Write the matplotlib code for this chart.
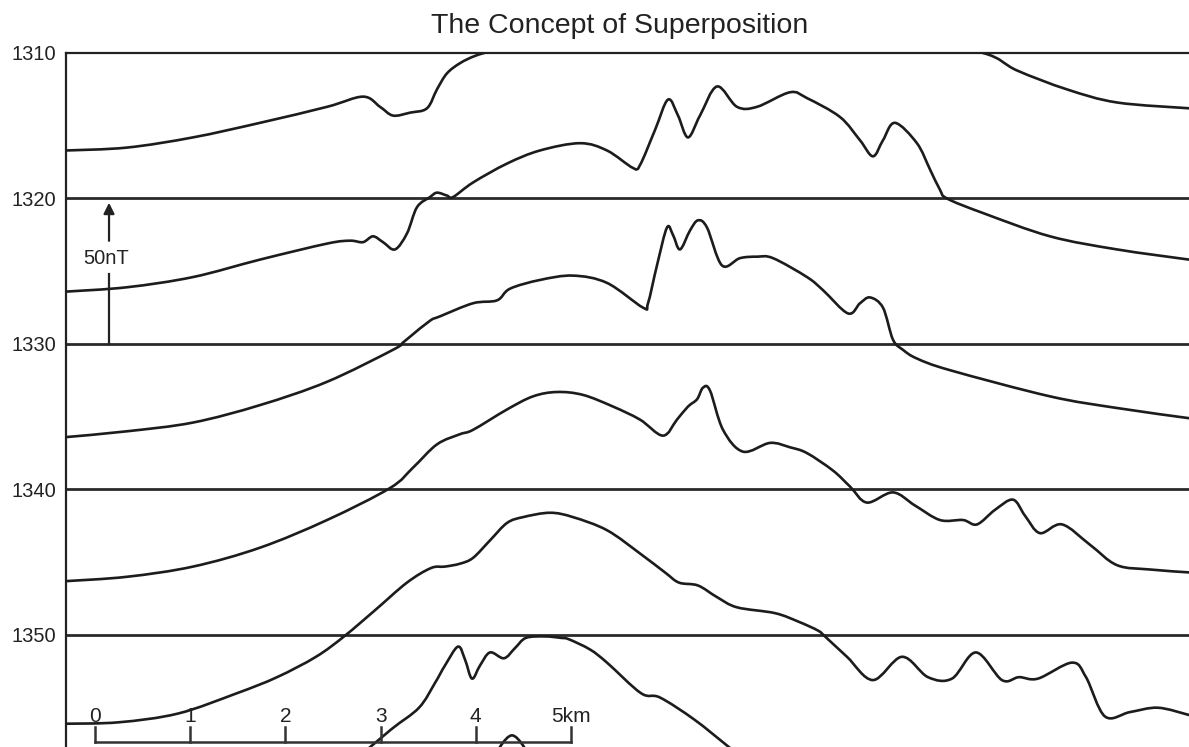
import matplotlib
matplotlib.use("Agg")
import matplotlib.pyplot as plt
import numpy as np
from matplotlib.path import Path
from matplotlib.patches import PathPatch

plt.rcParams['font.family'] = ['Liberation Sans', 'DejaVu Sans']

# ---------------- data (distance in km, value on the axis scale) ----------------
title = "The Concept of Superposition"
y_ticks = [1310, 1320, 1330, 1340, 1350]
baselines = [1320, 1330, 1340, 1350]
scale_km = [0, 1, 2, 3, 4, 5]
scale_labels = ["0", "1", "2", "3", "4", "5km"]

c1_x = [-0.305, 0.336, 1.029, 1.733, 2.437, 2.815, 2.994, 3.130, 3.309, 3.487, 3.592,
        3.697, 3.834, 3.992, 4.202, 4.674, 5.305, 6.355, 7.405, 8.456, 9.328, 9.685,
        10.210, 10.735, 11.492]
c1_y = [1316.7, 1316.5, 1315.8, 1314.8, 1313.7, 1313.0, 1313.7, 1314.3, 1314.1, 1313.8, 1312.5,
        1311.4, 1310.7, 1310.2, 1309.8, 1309.1, 1308.6, 1308.4, 1308.6, 1309.1, 1310.0, 1311.2,
        1312.5, 1313.4, 1313.8]

c2_x = [-0.305, 0.336, 1.029, 1.733, 2.437, 2.679, 2.815, 2.920, 3.025, 3.151, 3.277,
        3.382, 3.519, 3.592, 3.697, 3.761, 3.971, 4.328, 4.674, 5.095, 5.378, 5.651,
        5.725, 5.882, 6.019, 6.124, 6.229, 6.355, 6.534, 6.744, 6.954, 7.300, 7.479,
        7.826, 8.036, 8.172, 8.277, 8.403, 8.634, 8.771, 8.876, 8.950, 9.328, 10.032,
        10.735, 11.492]
c2_y = [1326.4, 1326.1, 1325.4, 1324.2, 1323.1, 1322.9, 1323.0, 1322.6, 1323.0, 1323.5, 1322.4,
        1320.6, 1319.9, 1319.6, 1319.8, 1319.9, 1318.9, 1317.6, 1316.7, 1316.2, 1316.7, 1317.9,
        1317.7, 1315.3, 1313.2, 1314.3, 1315.8, 1314.3, 1312.3, 1313.7, 1313.7, 1312.7, 1313.1,
        1314.4, 1316.0, 1317.1, 1316.0, 1314.8, 1316.2, 1318.0, 1319.4, 1320.0, 1321.0, 1322.6,
        1323.5, 1324.2]

c3_x = [-0.305, 0.336, 1.029, 1.733, 2.437, 3.130, 3.235, 3.309, 3.519, 3.624, 3.971,
        4.223, 4.359, 4.674, 5.021, 5.378, 5.756, 5.809, 5.903, 6.008, 6.071, 6.145,
        6.250, 6.334, 6.429, 6.586, 6.775, 6.954, 7.122, 7.479, 7.647, 7.910, 8.036,
        8.141, 8.277, 8.382, 8.487, 8.634, 8.981, 10.032, 10.735, 11.492]
c3_y = [1336.4, 1336.0, 1335.4, 1334.2, 1332.6, 1330.4, 1329.9, 1329.5, 1328.4, 1328.1, 1327.2,
        1327.0, 1326.2, 1325.6, 1325.3, 1325.8, 1327.5, 1327.2, 1324.6, 1322.0, 1322.5, 1323.5,
        1322.2, 1321.5, 1322.0, 1324.6, 1324.1, 1324.0, 1324.1, 1325.4, 1326.3, 1327.9, 1327.2,
        1326.8, 1327.5, 1329.7, 1330.4, 1331.0, 1331.8, 1333.6, 1334.4, 1335.1]

c4_x = [-0.305, 0.336, 1.029, 1.733, 2.437, 3.099, 3.340, 3.592, 3.834, 3.971, 4.328,
        4.601, 4.853, 5.126, 5.441, 5.725, 5.966, 6.113, 6.229, 6.324, 6.387, 6.460,
        6.597, 6.807, 7.090, 7.300, 7.479, 7.752, 7.931, 8.109, 8.382, 8.613, 8.876,
        9.118, 9.265, 9.454, 9.643, 9.769, 9.926, 10.158, 10.452, 10.735, 11.082, 11.492]
c4_y = [1346.3, 1346.0, 1345.3, 1344.0, 1342.1, 1339.9, 1338.5, 1336.9, 1336.2, 1335.9, 1334.5,
        1333.6, 1333.3, 1333.5, 1334.3, 1335.2, 1336.3, 1335.2, 1334.3, 1333.8, 1333.0, 1333.2,
        1335.9, 1337.4, 1336.8, 1337.1, 1337.5, 1338.7, 1339.8, 1340.9, 1340.2, 1341.1, 1342.1,
        1342.1, 1342.4, 1341.4, 1340.7, 1341.8, 1343.0, 1342.4, 1343.8, 1345.2, 1345.5, 1345.7]

c5_x = [-0.305, 0.252, 0.872, 1.492, 1.912, 2.321, 2.616, 2.941, 3.277, 3.529, 3.676,
        3.834, 3.971, 4.149, 4.328, 4.496, 4.779, 5.021, 5.378, 5.725, 5.987, 6.134,
        6.334, 6.534, 6.744, 7.143, 7.395, 7.595, 7.668, 7.899, 8.172, 8.477, 8.750,
        9.002, 9.254, 9.527, 9.706, 9.905, 10.263, 10.410, 10.609, 10.872, 11.166, 11.492]
c5_y = [1356.1, 1356.0, 1355.4, 1354.0, 1352.9, 1351.5, 1350.1, 1348.3, 1346.4, 1345.4, 1345.3,
        1345.1, 1344.7, 1343.5, 1342.3, 1341.9, 1341.6, 1341.9, 1342.8, 1344.4, 1345.7, 1346.4,
        1346.6, 1347.4, 1348.1, 1348.5, 1349.1, 1349.7, 1350.1, 1351.5, 1353.1, 1351.5, 1352.9,
        1353.0, 1351.2, 1353.1, 1352.9, 1353.0, 1351.9, 1352.9, 1355.6, 1355.3, 1355.0, 1355.5]

c6_x = [2.731, 3.109, 3.403, 3.571, 3.676, 3.813, 3.887, 3.960, 4.044, 4.149, 4.296,
        4.412, 4.527, 4.727, 4.895, 4.979, 5.200, 5.378, 5.735, 5.935, 6.292, 6.639, 6.828]
c6_y = [1358.6, 1356.5, 1355.0, 1353.3, 1352.1, 1350.8, 1351.7, 1353.0, 1352.1, 1351.2, 1351.6,
        1350.9, 1350.2, 1350.1, 1350.2, 1350.3, 1351.0, 1351.9, 1354.0, 1354.3, 1355.8, 1357.6, 1358.6]

c7_x = [4.149, 4.380, 4.611]
c7_y = [1358.8, 1356.9, 1358.8]

arrow_x = 0.147
arrow_label = "50nT"

# ---------------- figure ----------------
W, H = 1189, 747
fig = plt.figure(figsize=(W / 100, H / 100), dpi=100)
ax = fig.add_axes([66 / W, 0.0, (W - 66) / W, (H - 53) / H])

line_col = "#1c1c1c"


def smooth_path(xs, ys):
    """Draw a smooth (Catmull-Rom as Bezier) line through the data points."""
    p = np.column_stack([xs, ys]).astype(float)
    n = len(p)
    verts = [p[0]]
    codes = [Path.MOVETO]
    for i in range(n - 1):
        p0 = p[i - 1] if i > 0 else p[i]
        p1, p2 = p[i], p[i + 1]
        p3 = p[i + 2] if i + 2 < n else p[i + 1]
        c1 = p1 + (p2 - p0) / 6.0
        c2 = p2 - (p3 - p1) / 6.0
        verts += [c1, c2, p2]
        codes += [Path.CURVE4] * 3
    return Path(verts, codes)


for yb in baselines:
    ax.axhline(yb, color="#2a2a2a", lw=2.0, zorder=2)

for xs, ys in [(c1_x, c1_y), (c2_x, c2_y), (c3_x, c3_y), (c4_x, c4_y),
               (c5_x, c5_y), (c6_x, c6_y), (c7_x, c7_y)]:
    ax.add_patch(PathPatch(smooth_path(xs, ys), facecolor="none", edgecolor=line_col,
                           lw=1.9, joinstyle="round", capstyle="round", zorder=3))

# 50 nT arrow
ax.plot([arrow_x, arrow_x], [1330, 1325.2], color="#222222", lw=1.6, zorder=3)
ax.annotate("", xy=(arrow_x, 1320.1), xytext=(arrow_x, 1323.1),
            arrowprops=dict(arrowstyle="-|>", color="#222222", lw=1.6, mutation_scale=16),
            zorder=3)
ax.text(arrow_x - 0.03, 1324.1, arrow_label, ha="center", va="center", fontsize=14.5, color="#222222")

# distance scale bar
sb_y = 1357.35
ax.plot([scale_km[0], scale_km[-1]], [sb_y, sb_y], color="#333333", lw=1.8, zorder=3)
for k, lab in zip(scale_km, scale_labels):
    ax.plot([k, k], [sb_y, sb_y - 1.05], color="#333333", lw=1.8, zorder=3)
    ax.text(k, 1356.0, lab, ha="center", va="baseline", fontsize=15, color="#222222")

ax.set_xlim(-0.305, 11.492)
ax.set_ylim(1357.7, 1310)
ax.set_xticks([])
ax.set_yticks(y_ticks)
ax.set_yticklabels([str(v) for v in y_ticks])
ax.tick_params(axis="y", length=0, pad=7, labelsize=14.5, labelcolor="#222222")
for s in ["right", "bottom"]:
    ax.spines[s].set_visible(False)
for s in ["top", "left"]:
    ax.spines[s].set_linewidth(1.6)
    ax.spines[s].set_color("#222222")

fig.text(620 / W, 1 - 33 / H, title, ha="center", va="baseline", fontsize=20.5, color="#222222")

fig.savefig("out.png", dpi=100)
